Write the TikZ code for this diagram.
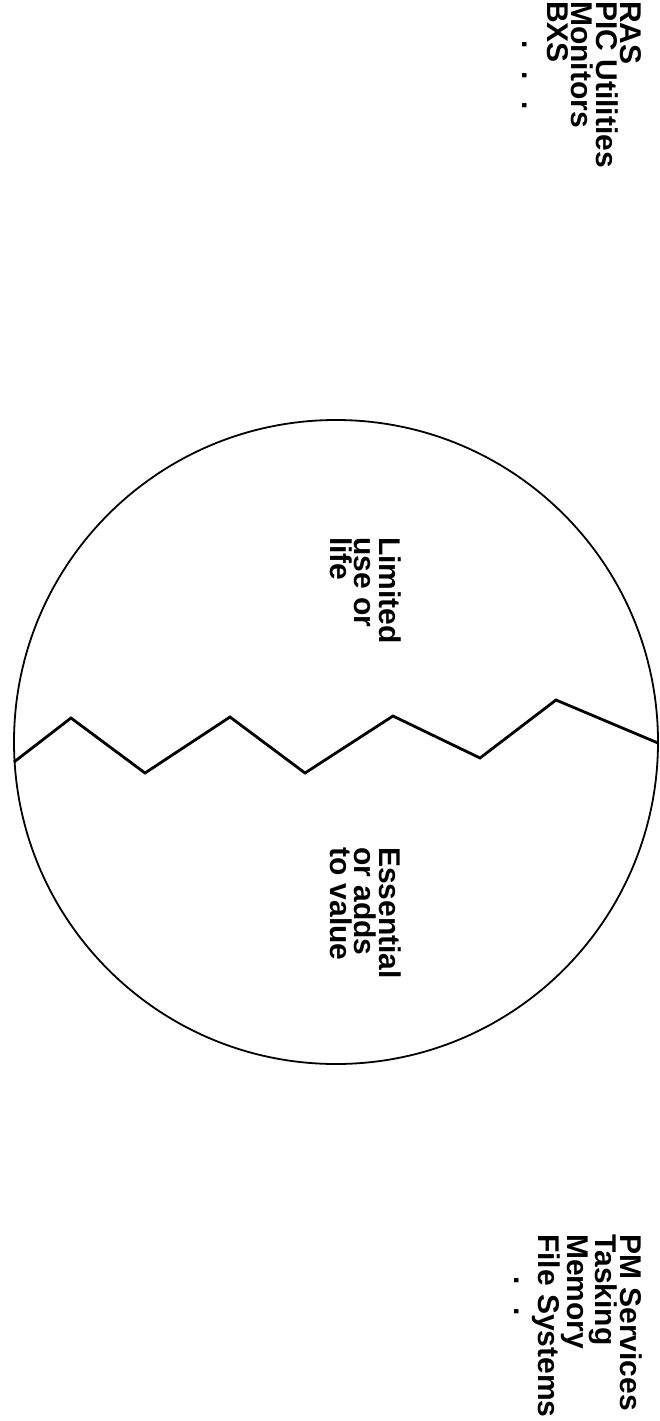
\documentclass[tikz,border=0pt]{standalone}
\usepackage{fontspec}
\setmainfont{Liberation Sans}
\begin{document}
\begin{tikzpicture}[x=1pt, y=-1pt,
    lbl/.style={rotate=-90, anchor=north west, inner sep=0pt, align=left,
        font=\fontsize{30}{24.5}\selectfont\bfseries}]
    \useasboundingbox (0,0) rectangle (659,1421);

    % 圆
    \draw[line width=1.8pt] (336,742) circle (322pt);

    % 锯齿线
    \draw[line width=2.8pt] (14,762) -- (71,718) -- (145,773) -- (230,717) -- (305,773)
        -- (393,716) -- (480,758) -- (556,700) -- (658,743);

    % 圆内文字
    \node[lbl] (limited) at (401,537) {Limited\\use or\\life};
    \node[lbl] (essential) at (401,847) {Essential\\or adds\\to value};

    % 两侧列表
    \node[lbl] (extras) at (642,1) {RAS\\PIC Utilities\\Monitors\\BXS\\
        \hspace*{1.3em}.\hspace{0.75em}.\hspace{0.75em}.};
    \node[lbl] (core) at (642,1234) {PM Services\\Tasking\\Memory\\File Systems\\
        \hspace*{1.4em}.\hspace{0.75em}.};
\end{tikzpicture}
\end{document}
